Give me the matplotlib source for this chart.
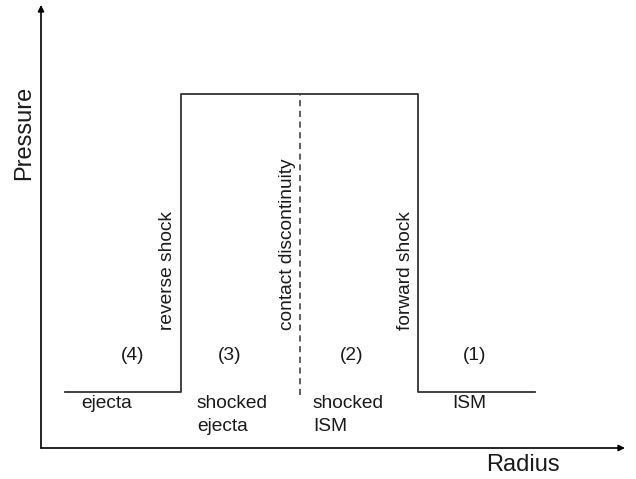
import matplotlib.pyplot as plt

plt.rcParams['font.family'] = ['Liberation Sans', 'DejaVu Sans']

# pressure profile across the remnant (arbitrary units)
radius = [24, 140, 140, 377, 377, 494]
pressure = [56, 56, 354, 354, 56, 56]
contact_r = 259
contact_p = [53, 353]

shock_labels = ['reverse shock', 'contact discontinuity', 'forward shock']
shock_label_r = [127, 246, 364]

region_ids = ['(4)', '(3)', '(2)', '(1)']
region_id_r = [92, 189, 311, 434]
region_names = ['ejecta', 'shocked\nejecta', 'shocked\nISM', 'ISM']
region_name_r = [40, 156, 272, 411]

line_col = '#333333'
text_col = '#1a1a1a'

fig = plt.figure(figsize=(6.36, 4.79), dpi=100)
ax = fig.add_axes([41 / 636, 31 / 479, 584 / 636, 443 / 479])
ax.set_xlim(0, 584)
ax.set_ylim(0, 443)
ax.axis('off')

ax.plot(radius, pressure, color=line_col, lw=1.3)
ax.plot([contact_r, contact_r], contact_p, color=line_col, lw=1.1, ls=(0, (4, 3)))

# axes with arrow heads
arrow = dict(arrowstyle='-|>', color='black', lw=1.2, mutation_scale=9,
             shrinkA=0, shrinkB=0)
ax.annotate('', xy=(0, 443), xytext=(0, 0), arrowprops=arrow, annotation_clip=False)
ax.annotate('', xy=(584, 0), xytext=(0, 0), arrowprops=arrow, annotation_clip=False)

ax.text(-17, 315, 'Pressure', rotation=90, ha='center', va='center',
        fontsize=17, color=text_col, clip_on=False)
ax.text(482, -17, 'Radius', ha='center', va='center',
        fontsize=17, color=text_col, clip_on=False)

for lab, r in zip(shock_labels, shock_label_r):
    ax.text(r, 118, lab, rotation=90, ha='center', va='bottom',
            fontsize=13.8, color=text_col)

for lab, r in zip(region_ids, region_id_r):
    ax.text(r, 93, lab, ha='center', va='center', fontsize=13.8, color=text_col)

for lab, r in zip(region_names, region_name_r):
    ax.text(r, 53, lab, ha='left', va='top', fontsize=13.8, color=text_col,
            linespacing=1.45)

fig.savefig('out.png', dpi=100)
